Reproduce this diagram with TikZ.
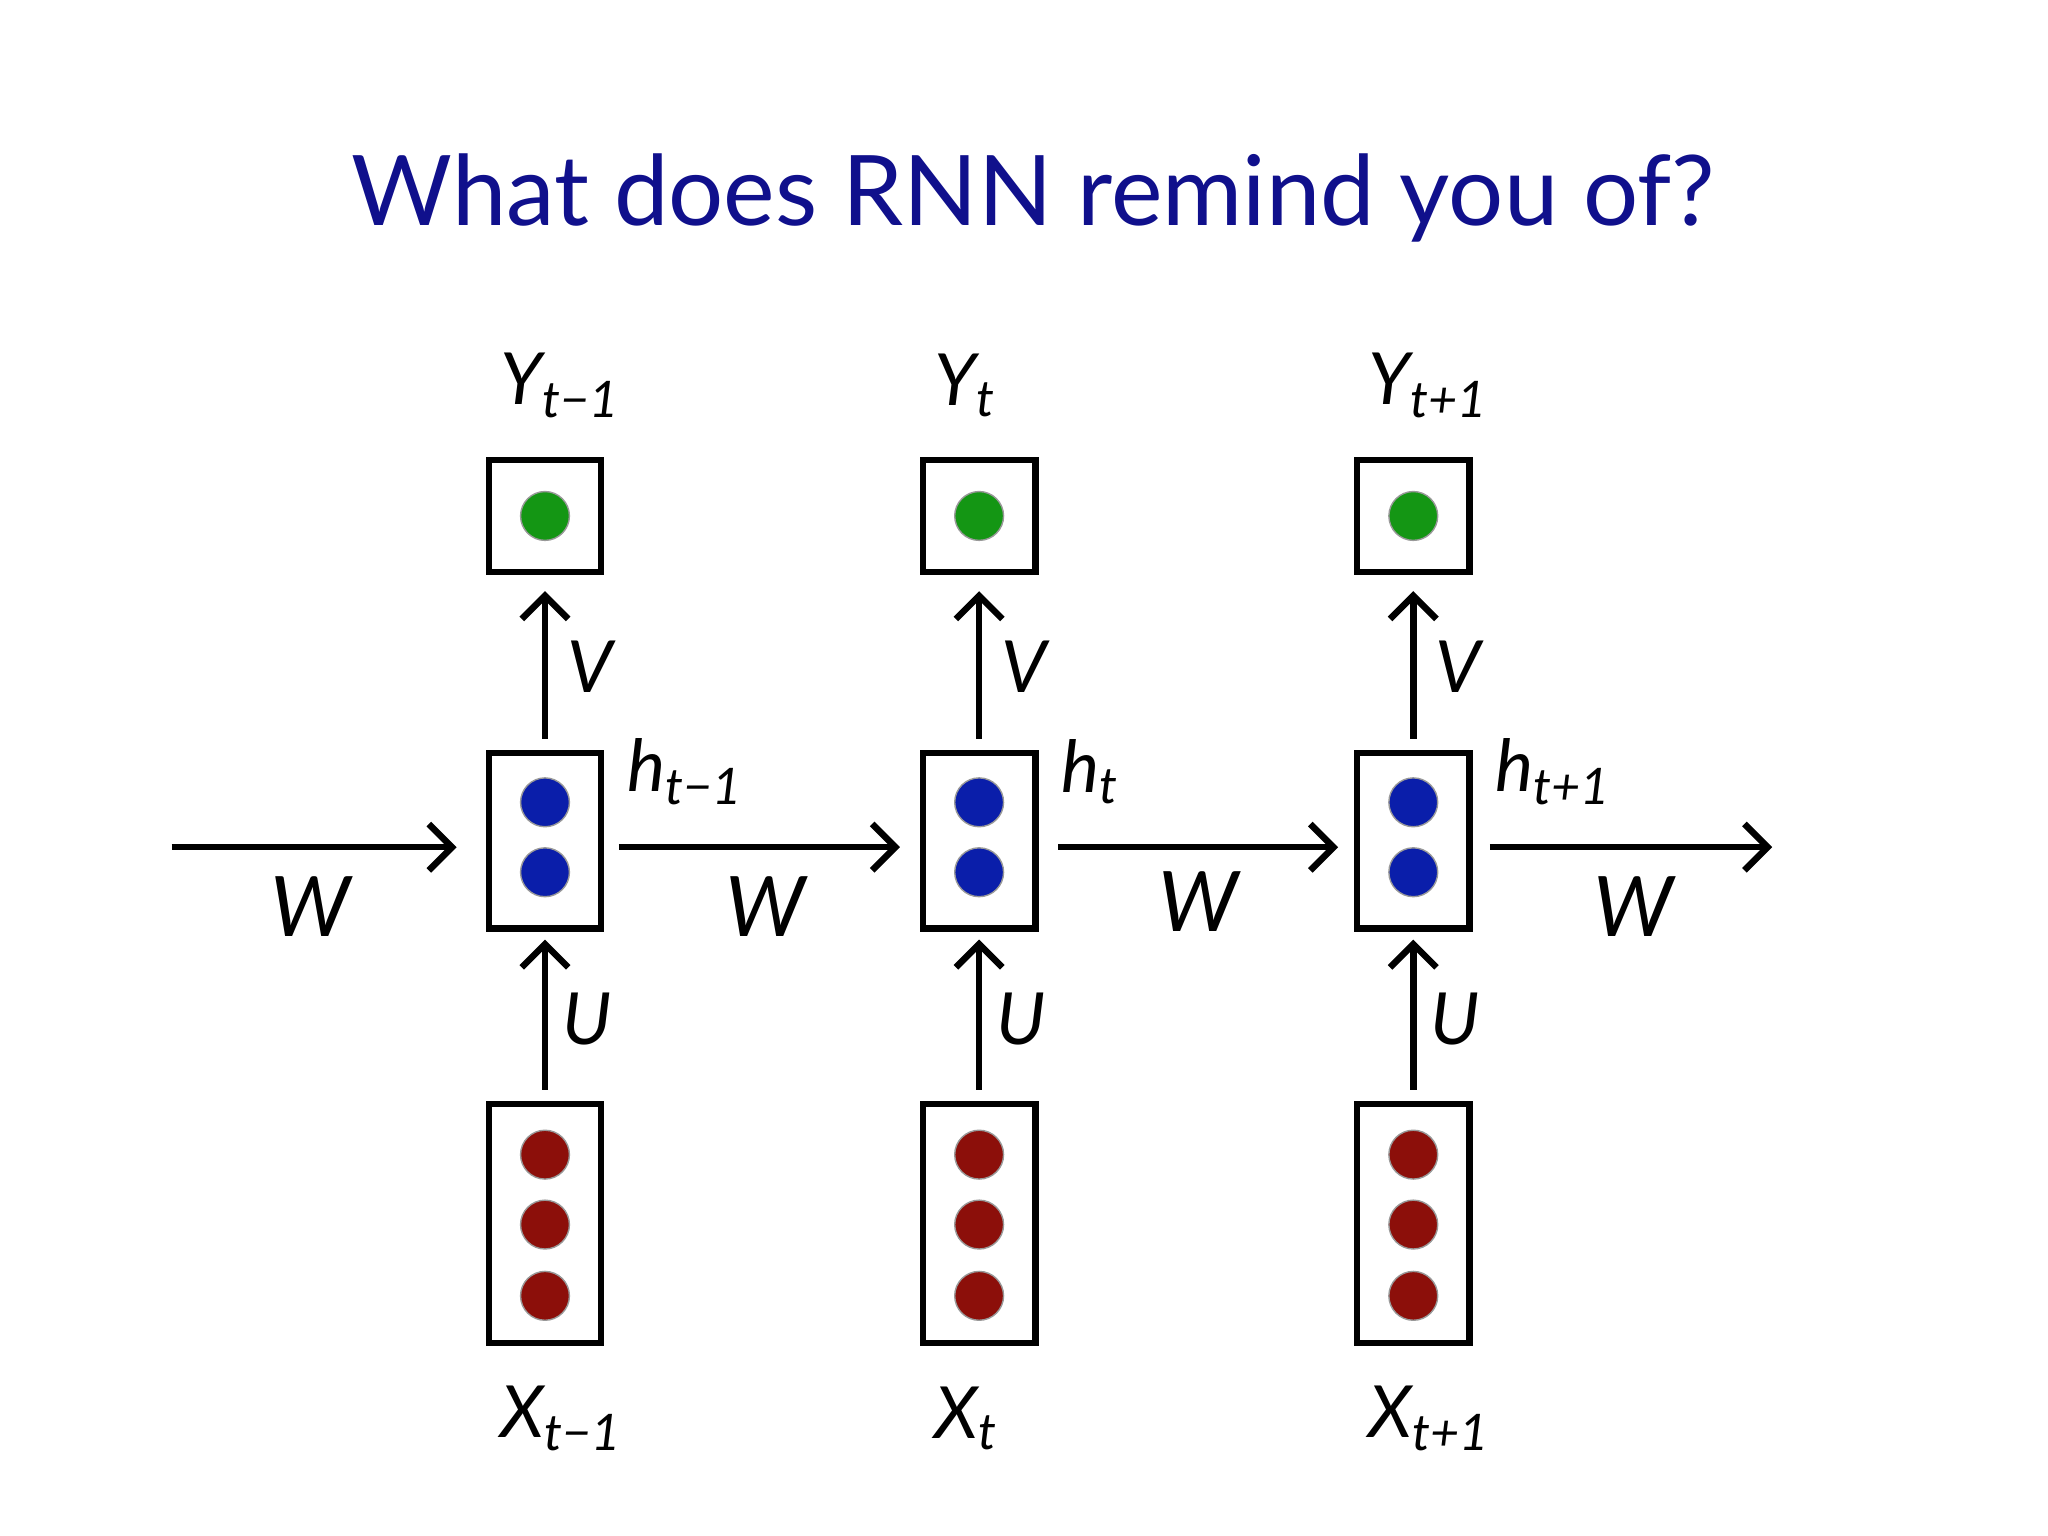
\documentclass[tikz,border=0pt]{standalone}
\usepackage{fontspec}
\setmainfont{Lato}
\usetikzlibrary{arrows.meta,calc}
\definecolor{ttl}{RGB}{16,16,140}
\definecolor{gr}{RGB}{20,150,20}
\definecolor{bl}{RGB}{10,30,170}
\definecolor{rd}{RGB}{140,15,10}
\begin{document}
\begin{tikzpicture}[x=0.01cm,y=-0.01cm,
  box/.style={draw,line width=1.4pt,minimum width=0.85cm,inner sep=0pt},
  dot/.style={circle,inner sep=0pt,minimum size=0.37cm,draw=black!40,line width=0.3pt},
  arr/.style={line width=1.4pt,-{Straight Barb[length=5pt,width=10pt,line width=1.4pt]}},
  lab/.style={font=\fontsize{15.5}{18}\selectfont\itshape},
  wl/.style={font=\fontsize{18}{21}\selectfont\itshape}]
\useasboundingbox (0,0) rectangle (1552,1164);
\node[text=ttl,font=\fontsize{21}{25}\selectfont] (title) at (783,150) {What does RNN remind you of?};
\foreach \i/\x/\s in {1/413/{t−1},2/742/{t},3/1071/{t+1}}{
  \node[box,minimum height=0.85cm] (y\i) at (\x,391) {};
  \node[box,minimum height=1.33cm] (h\i) at (\x,637) {};
  \node[box,minimum height=1.81cm] (x\i) at (\x,927) {};
  \node[dot,fill=gr] (g\i) at (\x,391) {};
  \node[dot,fill=bl] (b\i a) at (\x,608) {};
  \node[dot,fill=bl] (b\i b) at (\x,661) {};
  \node[dot,fill=rd] (r\i a) at (\x,875) {};
  \node[dot,fill=rd] (r\i b) at (\x,928) {};
  \node[dot,fill=rd] (r\i c) at (\x,982) {};
  \draw[arr] ($(h\i.north)+(0,-8)$) -- ($(y\i.south)+(0,12)$);
  \draw[arr] ($(x\i.north)+(0,-8)$) -- ($(h\i.south)+(0,6)$);
  \node[lab] (vl\i) at (\x+34,505) {V};
  \node[lab] (ul\i) at (\x+32,772) {U};
  \node[lab,anchor=west] (yl\i) at (\x-46,292) {Y\textsubscript{\s}};
  \node[lab,anchor=west] (xl\i) at (\x-46,1075) {X\textsubscript{\s}};
  \node[lab,anchor=west] (hl\i) at (\x+50,585) {h\textsubscript{\s}};
}
\coordinate (w0) at (130,642);
\coordinate (w4) at (1343,642);
\draw[arr] (w0) -- ($(h1.west)+(-22,5)$);
\draw[arr] ($(h1.east)+(11,5)$) -- ($(h2.west)+(-15,5)$);
\draw[arr] ($(h2.east)+(15,5)$) -- ($(h3.west)+(-12,5)$);
\draw[arr] ($(h3.east)+(13,5)$) -- (w4);
\node[wl] (wl1) at (235,687) {W};
\node[wl] (wl2) at (580,687) {W};
\node[wl] (wl3) at (908,683) {W};
\node[wl] (wl4) at (1238,687) {W};
\end{tikzpicture}
\end{document}
